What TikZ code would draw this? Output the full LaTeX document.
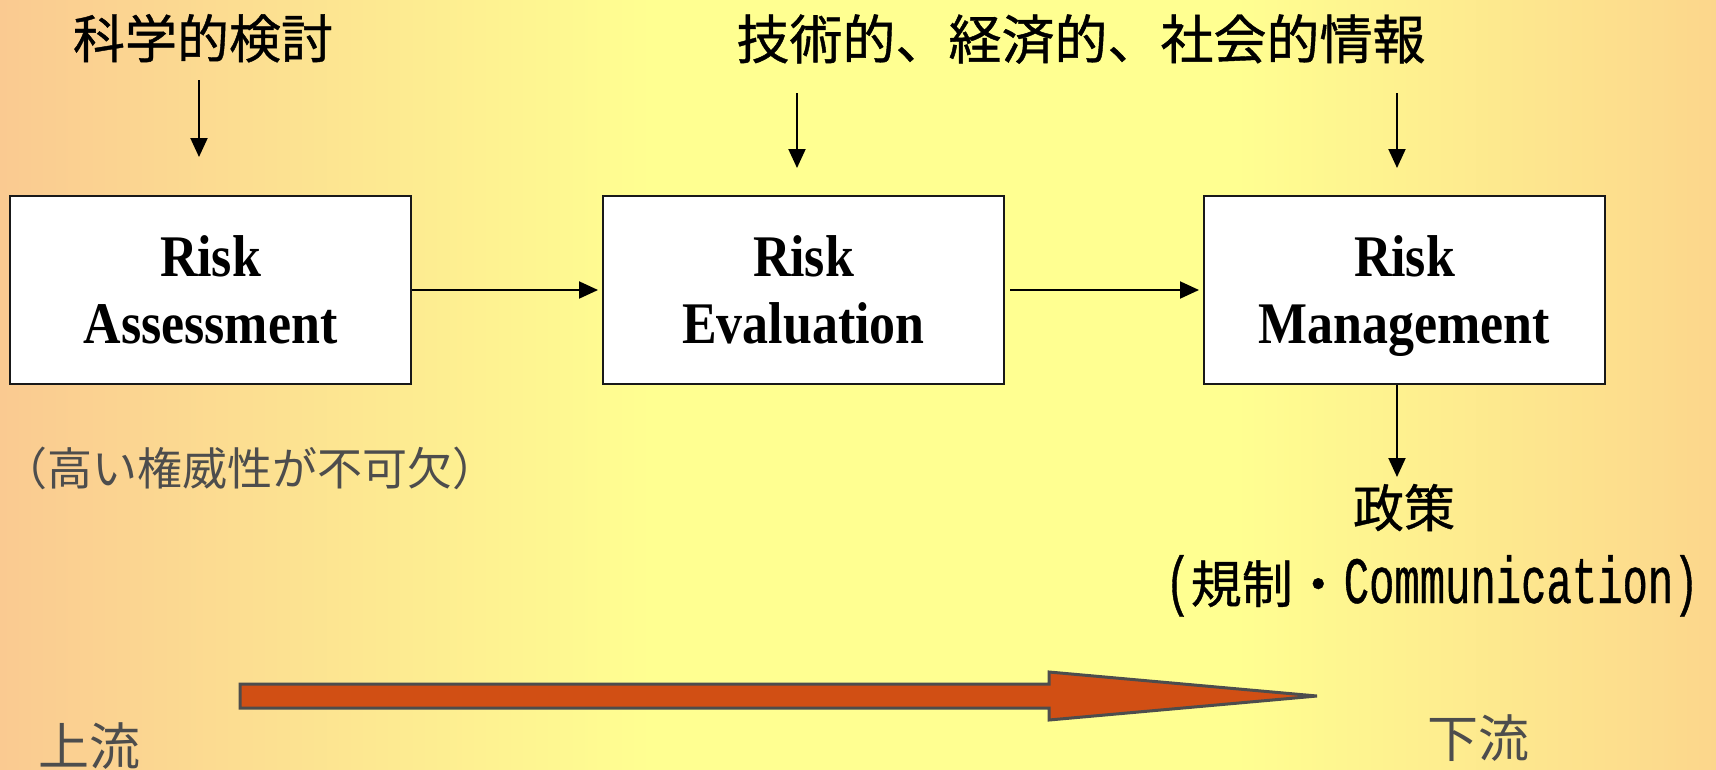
\documentclass[tikz,border=0pt]{standalone}
\usepackage{fontspec}
\setmainfont{Liberation Serif}
\newfontfamily\boxfont[FakeStretch=0.88]{Liberation Serif}
\newfontfamily\cjk{Noto Sans CJK JP}
\newfontfamily\cjkb[FakeBold=0.8]{Noto Sans CJK JP}
\newfontfamily\commfont[FakeStretch=0.64,FakeBold=0.6]{Liberation Mono}
\usetikzlibrary{arrows.meta}
\definecolor{bgL}{RGB}{250,202,145}
\definecolor{bgY}{RGB}{255,255,145}
\definecolor{bgR}{RGB}{252,214,140}
\definecolor{arrowfill}{RGB}{209,79,20}
\definecolor{arrowline}{RGB}{77,77,77}
\definecolor{gtext}{RGB}{77,77,77}
\pgfdeclarehorizontalshading{bgshade}{100bp}{color(0bp)=(bgL); color(25bp)=(bgL); color(44bp)=(bgY); color(61bp)=(bgY); color(75bp)=(bgR); color(100bp)=(bgR)}
\begin{document}
\begin{tikzpicture}[x=1pt,y=-1pt,
  riskbox/.style={draw=black!90, line width=2pt, fill=white, minimum width=401pt, minimum height=188pt,
    inner sep=0pt, align=center, text height=106pt, text depth=0pt,
    font=\boxfont\bfseries\fontsize{59}{67}\selectfont},
  conn/.style={-{Triangle[length=19pt,width=17pt]}, line width=2pt},
  lbl/.style={inner sep=0pt, anchor=base},
  bigarrow/.style={fill=arrowfill, draw=arrowline, line width=3pt, line join=miter}
]
\useasboundingbox (0,0) rectangle (1716,769);
\shade[shading=bgshade] (0,0) rectangle (1716,769);

% boxes
\node[riskbox] (ra) at (210.5,290) {Risk\\Assessment};
\node[riskbox] (re) at (803.5,290) {Risk\\Evaluation};
\node[riskbox] (rm) at (1404.5,290) {Risk\\Management};

% texts
\node[lbl, font=\cjkb\fontsize{52}{60}\selectfont] (sci) at (203,58) {科学的検討};
\node[lbl, font=\cjkb\fontsize{53}{60}\selectfont] (info) at (1081,59) {技術的、経済的、社会的情報};
\node[lbl, font=\cjk\fontsize{45}{52}\selectfont, text=gtext] (auth) at (250,485) {（高い権威性が不可欠）};
\node[lbl, font=\cjkb\fontsize{51}{60}\selectfont] (pol) at (1404,527) {政策};
\node[lbl] (reg) at (1432,603) {{\commfont\fontsize{66}{70}\selectfont (}{\cjkb\fontsize{51}{60}\selectfont 規制・}{\commfont\fontsize{66}{70}\selectfont Communication)}};
\node[lbl, font=\cjk\fontsize{51}{56}\selectfont, text=gtext] (up) at (89,765) {上流};
\node[lbl, font=\cjk\fontsize{51}{56}\selectfont, text=gtext] (down) at (1478,757) {下流};

% connectors
\coordinate (a1s) at (199,80);
\coordinate (a1e) at (199,157);
\coordinate (a2s) at (797,93);
\coordinate (a2e) at (797,168);
\coordinate (a3s) at (1397,93);
\coordinate (a3e) at (1397,168);
\coordinate (a4e) at (1397,477);
\draw[conn] (a1s) -- (a1e);
\draw[conn] (a2s) -- (a2e);
\draw[conn] (a3s) -- (a3e);
\draw[conn] (rm.south -| a4e) -- (a4e);
\draw[conn, shorten >=4pt] (ra.east) -- (re.west);
\draw[conn, shorten <=5pt, shorten >=4pt] (re.east) -- (rm.west);

% big flow arrow
\draw[bigarrow] (240,684) -- (1049,684) -- (1049,672) -- (1317,696) -- (1049,720) -- (1049,708) -- (240,708) -- cycle;
\end{tikzpicture}
\end{document}
